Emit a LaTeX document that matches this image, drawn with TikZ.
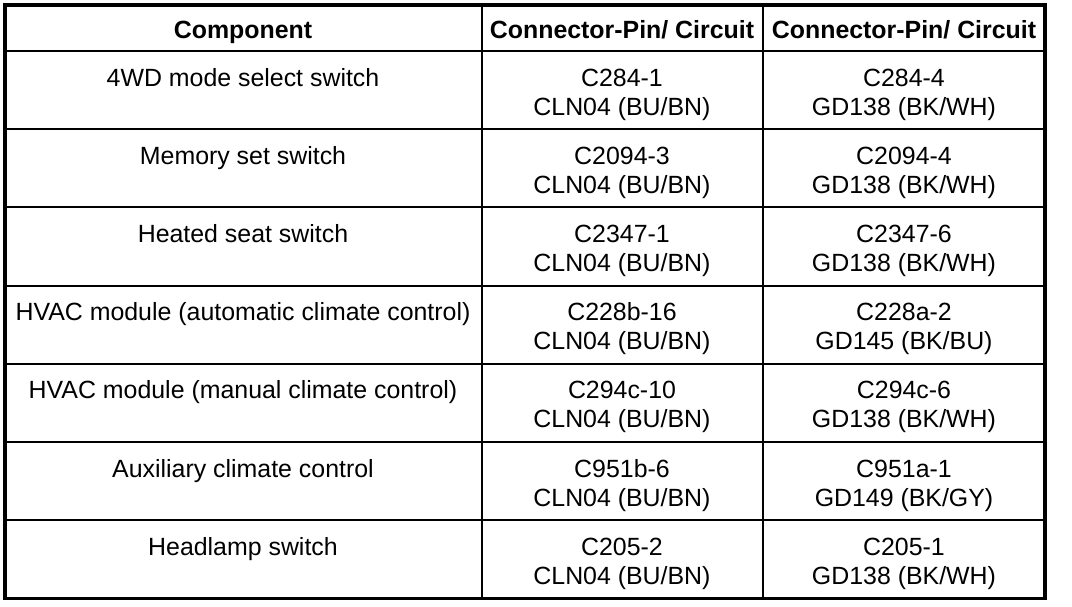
\documentclass[tikz,border=0pt]{standalone}
\usepackage{fontspec}
\setmainfont{Liberation Sans}
\usetikzlibrary{calc}

\begin{document}
\begin{tikzpicture}[x=0.5pt, y=-0.5pt,
    HDR/.style={anchor=base, inner sep=0pt, font=\fontsize{12.45}{14.5}\selectfont\bfseries},
    CEL/.style={anchor=base, inner sep=0pt, font=\fontsize{12.45}{14.5}\selectfont},
    GRD/.style={draw=black, line width=1pt},
    BRD/.style={draw=black, line width=1.7pt}
    ]
        \useasboundingbox (0,0) rectangle (1072,606);
        % header
        \node[HDR] (hC) at (243,38) {Component};
        \node[HDR] (hA) at (622,38) {Connector-Pin/ Circuit};
        \node[HDR] (hB) at (904,38) {Connector-Pin/ Circuit};
        % rows
        \node[CEL] (C1) at (243,86) {4WD mode select switch};
        \node[CEL] (A1) at (622,86) {\parbox[t]{130pt}{\centering C284-1\\CLN04 (BU/BN)}};
        \node[CEL] (B1) at (904,86) {\parbox[t]{130pt}{\centering C284-4\\GD138 (BK/WH)}};
        \node[CEL] (C2) at (243,164.2) {Memory set switch};
        \node[CEL] (A2) at (622,164.2) {\parbox[t]{130pt}{\centering C2094-3\\CLN04 (BU/BN)}};
        \node[CEL] (B2) at (904,164.2) {\parbox[t]{130pt}{\centering C2094-4\\GD138 (BK/WH)}};
        \node[CEL] (C3) at (243,242.4) {Heated seat switch};
        \node[CEL] (A3) at (622,242.4) {\parbox[t]{130pt}{\centering C2347-1\\CLN04 (BU/BN)}};
        \node[CEL] (B3) at (904,242.4) {\parbox[t]{130pt}{\centering C2347-6\\GD138 (BK/WH)}};
        \node[CEL] (C4) at (243,320.6) {HVAC module (automatic climate control)};
        \node[CEL] (A4) at (622,320.6) {\parbox[t]{130pt}{\centering C228b-16\\CLN04 (BU/BN)}};
        \node[CEL] (B4) at (904,320.6) {\parbox[t]{130pt}{\centering C228a-2\\GD145 (BK/BU)}};
        \node[CEL] (C5) at (243,398.8) {HVAC module (manual climate control)};
        \node[CEL] (A5) at (622,398.8) {\parbox[t]{130pt}{\centering C294c-10\\CLN04 (BU/BN)}};
        \node[CEL] (B5) at (904,398.8) {\parbox[t]{130pt}{\centering C294c-6\\GD138 (BK/WH)}};
        \node[CEL] (C6) at (243,477) {Auxiliary climate control};
        \node[CEL] (A6) at (622,477) {\parbox[t]{130pt}{\centering C951b-6\\CLN04 (BU/BN)}};
        \node[CEL] (B6) at (904,477) {\parbox[t]{130pt}{\centering C951a-1\\GD149 (BK/GY)}};
        \node[CEL] (C7) at (243,555.2) {Headlamp switch};
        \node[CEL] (A7) at (622,555.2) {\parbox[t]{130pt}{\centering C205-2\\CLN04 (BU/BN)}};
        \node[CEL] (B7) at (904,555.2) {\parbox[t]{130pt}{\centering C205-1\\GD138 (BK/WH)}};
        % grid
        \draw[GRD] (481.5,5) -- (481.5,598.4);
        \draw[GRD] (763,5) -- (763,598.4);
        \draw[GRD] (5,51) -- (1045,51);
        \draw[GRD] (5,129.2) -- (1045,129.2);
        \draw[GRD] (5,207.4) -- (1045,207.4);
        \draw[GRD] (5,285.6) -- (1045,285.6);
        \draw[GRD] (5,363.8) -- (1045,363.8);
        \draw[GRD] (5,442) -- (1045,442);
        \draw[GRD] (5,520.2) -- (1045,520.2);
        \draw[BRD] (5,5) rectangle (1045,598.4);
    \end{tikzpicture}
\end{document}
